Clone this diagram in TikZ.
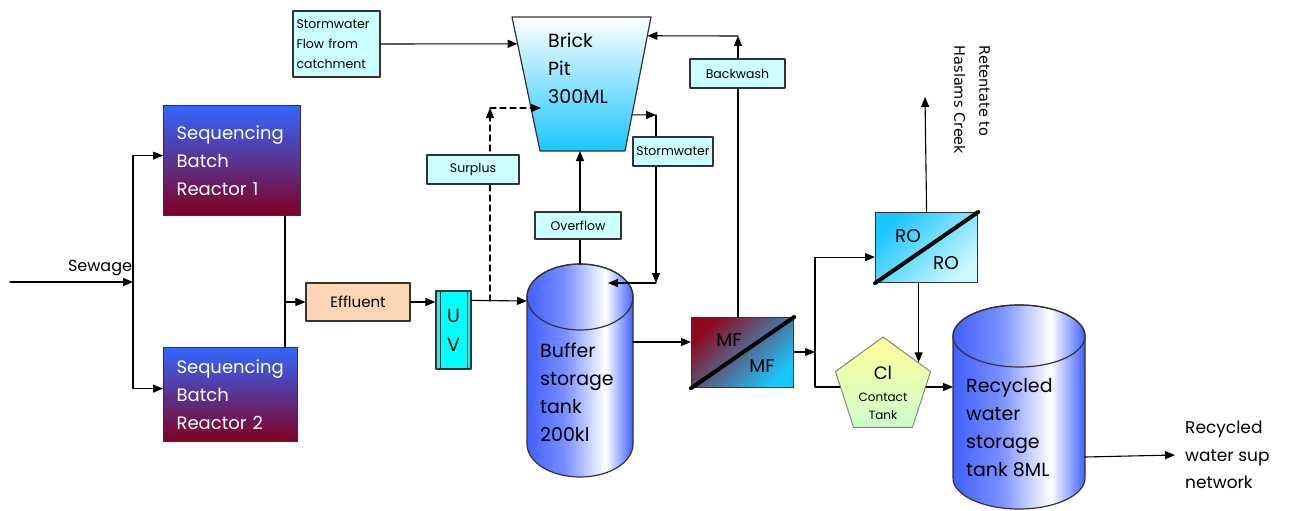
\documentclass[tikz,border=0pt]{standalone}
\usepackage{fontspec}
\setmainfont{Poppins}
\newfontfamily\retfont{DejaVu Sans}
\usetikzlibrary{arrows.meta,positioning,calc,shapes.geometric}
\definecolor{sbrtop}{RGB}{51,102,255}
\definecolor{sbrbot}{RGB}{128,0,32}
\definecolor{tagfill}{RGB}{204,255,255}
\definecolor{effl}{RGB}{252,213,180}
\definecolor{uvfill}{RGB}{0,255,255}
\definecolor{sky}{RGB}{26,198,255}
\definecolor{tankblue}{RGB}{64,96,255}
\colorlet{tankmid}{tankblue!70!white}
\definecolor{mfred}{RGB}{140,10,30}
\definecolor{rolight}{RGB}{204,248,255}
\definecolor{clyel}{RGB}{255,255,153}
\definecolor{clgrn}{RGB}{204,255,204}
\definecolor{edge}{RGB}{51,51,51}
\pgfdeclarehorizontalshading{tankshade}{100bp}{color(0bp)=(tankblue); color(25bp)=(tankblue); color(43bp)=(tankmid); color(62bp)=(white); color(75bp)=(tankblue); color(100bp)=(tankblue)}

\begin{document}
\begin{tikzpicture}[x=1pt,y=-1pt,line cap=round,line join=round,
  >={Triangle[length=10pt,width=8pt]},
  flow/.style={draw=black,line width=1.1pt},
  tag/.style={draw=edge,line width=1.2pt,fill=tagfill,font=\fontsize{12.5}{15}\selectfont,inner sep=0pt},
  sbr/.style={draw=edge,line width=1.2pt,top color=sbrtop,bottom color=sbrbot,text=white,
    font=\fontsize{18}{28}\selectfont,align=left,anchor=north west,inner xsep=13pt},
  bigtext/.style={font=\fontsize{19}{28}\selectfont,align=left,inner sep=0pt,anchor=north west},
  filter/.style={draw=edge,line width=1.2pt,minimum width=102pt,minimum height=70pt,anchor=north west},
  unitlbl/.style={font=\fontsize{18.5}{20}\selectfont,inner sep=0pt}]
\useasboundingbox (0,0) rectangle (1290,511);

\node[sbr,text width=111pt,minimum height=110pt] (sbr1) at (163,105) {Sequencing\\Batch\\Reactor 1};
\node[sbr,text width=108pt,minimum height=94pt] (sbr2) at (163,347) {Sequencing\\Batch\\Reactor 2};
\node[font=\fontsize{16}{18}\selectfont,anchor=south,inner sep=0pt] (sewlbl) at (100,276) {Sewage};
\node[draw=edge,line width=1.2pt,fill=effl,minimum width=104pt,minimum height=38pt,font=\fontsize{15}{18}\selectfont] (eff) at (358,302) {Effluent};
\node[draw=edge,line width=1.2pt,fill=uvfill,minimum width=35pt,minimum height=78pt,align=center,font=\fontsize{19}{29}\selectfont,inner sep=0pt] (uv) at (453.5,330) {U\\V};
\draw[line width=1.2pt,draw=edge] ([xshift=5pt]uv.north west) -- ([xshift=5pt]uv.south west)
  ([xshift=-4pt]uv.north east) -- ([xshift=-4pt]uv.south east);
\node[tag,minimum width=87pt,minimum height=66pt,align=left,text width=80pt,font=\fontsize{12.5}{20}\selectfont] (scf) at (336.5,44) {Stormwater\\Flow from\\catchment};

\coordinate (pitTL) at (512,17);
\coordinate (pitTR) at (651,17);
\coordinate (pitBR) at (625,151);
\coordinate (pitBL) at (540,151);
\shadedraw[top color=white,bottom color=sky,draw=edge,line width=1.2pt] (pitTL) -- (pitTR) -- (pitBR) -- (pitBL) -- cycle;
\node[bigtext] (pittxt) at (548,33) {Brick\\Pit\\300ML};

\shadedraw[shading=tankshade,draw=edge,line width=1.2pt] (527,297) -- (527,444)
  arc[start angle=180,end angle=0,x radius=53,y radius=33] -- (633,297)
  arc[start angle=0,end angle=-180,x radius=53,y radius=33] -- cycle;
\draw[draw=edge,line width=1.2pt] (580,297) ellipse[x radius=53,y radius=33];
\node[bigtext] (buftxt) at (540,343) {Buffer\\storage\\tank\\200kl};

\shadedraw[shading=tankshade,draw=edge,line width=1.2pt] (953,336) -- (953,478)
  arc[start angle=180,end angle=0,x radius=66,y radius=31] -- (1085,336)
  arc[start angle=0,end angle=-180,x radius=66,y radius=31] -- cycle;
\draw[draw=edge,line width=1.2pt] (1019,336) ellipse[x radius=66,y radius=31];
\node[bigtext] (rwtxt) at (966,378) {Recycled\\water\\storage\\tank 8ML};

\node[filter,top color=mfred,bottom color=sky,shading angle=45] (mf) at (691,317) {};
\draw[line width=4pt] (mf.south west) -- (mf.north east);
\node[unitlbl] (mf1) at (729,340) {MF};
\node[unitlbl] (mf2) at (762,366) {MF};
\node[filter,top color=sky,bottom color=rolight,shading angle=45] (ro) at (875,212) {};
\draw[line width=4pt] (ro.south west) -- (ro.north east);
\node[unitlbl] (ro1) at (908,236) {RO};
\node[unitlbl] (ro2) at (946,263) {RO};

\node[regular polygon,regular polygon sides=5,minimum size=100pt,inner sep=0pt,draw=edge!60,line width=1pt,top color=clyel,bottom color=clgrn] (cl) at (883,387) {};
\node[font=\fontsize{18}{20}\selectfont,inner sep=0pt] (clsym) at (883,373) {Cl};
\node[font=\fontsize{12}{18}\selectfont,align=center,inner sep=0pt] (cltxt) at (883,406) {Contact\\Tank};

\node[rotate=-90,align=left,font=\retfont\fontsize{14.5}{25}\selectfont,inner sep=0pt] (ret) at (972,100) {Retentate to\\Haslams Creek};
\node[anchor=west,align=left,font=\fontsize{17}{27.5}\selectfont,inner xsep=10pt] (net) at (1175,455) {Recycled\\water sup\\network};

\coordinate (sewin) at (10,282);
\coordinate (split) at (133,282);
\draw[flow,->] (sewin) -- (split);
\draw[flow,->] (split) |- ([yshift=5pt]sbr1.west);
\draw[flow,->] (split) |- ([yshift=6pt]sbr2.west);
\coordinate (merge) at (285,302);
\draw[flow] (merge |- sbr1.south) -- (merge |- sbr2.north);
\draw[flow,->] (merge) -- (eff.west);
\draw[flow,->] (eff.east) -- (uv.west |- eff.east);
\coordinate (uvout) at ([yshift=-10pt]uv.north east);
\coordinate (bufL) at (527,301);
\draw[flow,->] (uvout) -- (bufL);
\coordinate (tee) at (490,301);
\coordinate (spc) at (490,108);
\coordinate (pitL) at (541,108);
\draw[flow,dash pattern=on 6pt off 4pt,->] (tee) -- (spc);
\draw[flow,dash pattern=on 6pt off 4pt,->] (spc) -- (pitL);
\draw[flow,->] (scf.east) -- ($(pitTL)!0.2!(pitBL)$);
\coordinate (bufT) at (580,264);
\draw[flow,->] (bufT) -- (bufT |- pitBL);
\coordinate (pitR) at ($(pitTR)!0.73!(pitBR)$);
\coordinate (sw1) at (656,115);
\coordinate (sw2) at (656,283);
\coordinate (bufin) at (608,283);
\draw[flow,->] (pitR) -- (sw1);
\draw[flow,->] (sw1) -- (sw2);
\draw[flow,->] (sw2) -- (bufin);
\coordinate (bufR) at (633,342);
\draw[flow,->] (bufR) -- (mf.west |- bufR);
\coordinate (bw1) at (738,36);
\draw[flow,->] (mf.north -| bw1) -- (bw1);
\draw[flow,->] (bw1) -- ($(pitTR)!0.14!(pitBR)$);
\coordinate (split2) at (815,352);
\draw[flow,->] (mf.east |- split2) -- (split2);
\draw[flow,->] (split2) |- ([yshift=-9.5pt]ro.west);
\draw[flow] (split2) |- (cl.west);
\coordinate (retout) at (925,97);
\draw[flow,->] (ro.north) -- (retout);
\coordinate (clin) at ($(cl.corner 1)!0.74!(cl.corner 5)$);
\draw[flow,->] (ro.south -| clin) -- (clin);
\draw[flow,->] (cl.east) -- (cl.east -| 953,0);
\coordinate (rwR) at (1085,457);
\draw[flow,->] (rwR) -- (net.west);

\node[tag,minimum width=92pt,minimum height=29pt] (surp) at (473,169.5) {Surplus};
\node[tag,minimum width=86pt,minimum height=27pt] (ovf) at (578,225.5) {Overflow};
\node[tag,minimum width=80pt,minimum height=29pt] (swt) at (673,151.5) {Stormwater};
\node[tag,minimum width=95pt,minimum height=29pt] (bw) at (737.5,73.5) {Backwash};
\end{tikzpicture}
\end{document}
